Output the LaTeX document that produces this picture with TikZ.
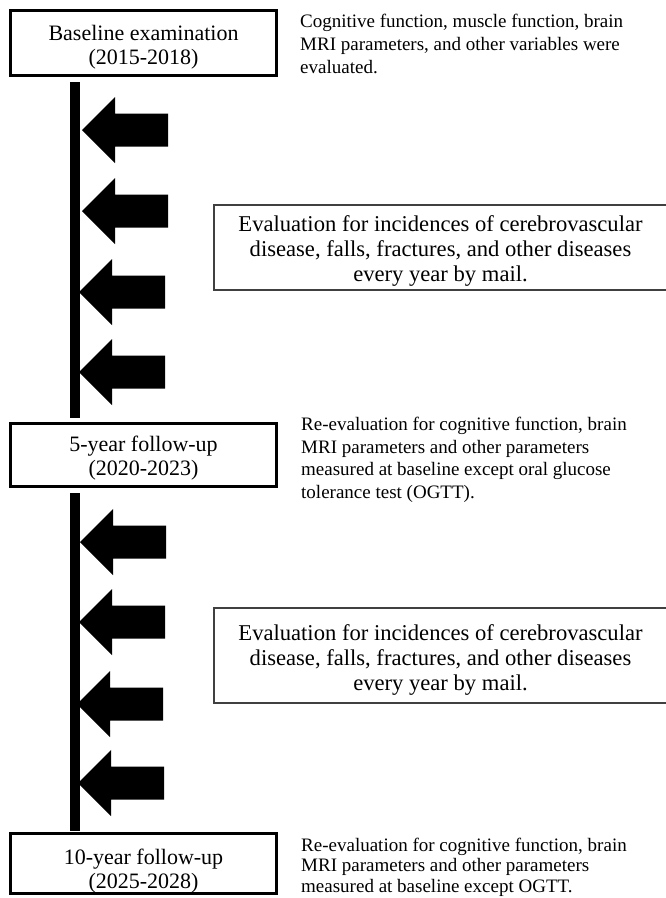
\documentclass[tikz,border=0pt]{standalone}
\usepackage{fontspec}
\setmainfont{Liberation Serif}
\begin{document}
\begin{tikzpicture}[x=1pt,y=-1pt,
  mainbox/.style={draw, line width=3pt, inner sep=0pt, minimum width=266pt},
  maintext/.style={inner sep=0pt, align=center, font=\fontsize{22}{24.5}\selectfont},
  evalbox/.style={draw=black!75, line width=1.2pt, inner sep=0pt, minimum width=453pt},
  evaltext/.style={inner sep=0pt, align=center, font=\fontsize{22.6}{25}\selectfont},
  note/.style={inner sep=0pt, align=left, anchor=north west, font=\fontsize{19}{23}\selectfont},
  bar/.style={line width=10pt},
  bigarrow/.pic={\fill (0,0) -- (33,-33) -- (33,-16.5) -- (86,-16.5) -- (86,16.5) -- (33,16.5) -- (33,33) -- cycle;}]
\useasboundingbox (0,0) rectangle (665,898);

% main boxes
\node[mainbox, minimum height=65pt] (b1) at (143.5,43) {};
\node[maintext] (b1t) at ([yshift=-4pt]b1.center) {Baseline examination\\(2015-2018)};
\node[mainbox, minimum height=63pt] (b2) at (143.5,455) {};
\node[maintext] (b2t) at ([yshift=-3pt]b2.center) {5-year follow-up\\(2020-2023)};
\node[mainbox, minimum height=60pt] (b3) at (143.5,863.5) {};
\node[maintext] (b3t) at ([yshift=-7.5pt]b3.center) {10-year follow-up\\(2025-2028)};

% notes
\node[note] (n1) at (300,14) {Cognitive function, muscle function, brain\\MRI parameters, and other variables were\\evaluated.};
\node[note, font=\fontsize{19}{22.5}\selectfont] (n2) at (301,417) {Re-evaluation for cognitive function, brain\\MRI parameters and other parameters\\measured at baseline except oral glucose\\tolerance test (OGTT).};
\node[note, font=\fontsize{19}{20.5}\selectfont] (n3) at (301,837.5) {Re-evaluation for cognitive function, brain\\MRI parameters and other parameters\\measured at baseline except OGTT.};

% evaluation boxes
\node[evalbox, minimum height=85pt] (e1) at (440.5,247.5) {};
\node[evaltext] (e1t) at ([yshift=-3.5pt]e1.center) {Evaluation for incidences of cerebrovascular\\disease, falls, fractures, and other diseases\\every year by mail.};
\node[evalbox, minimum height=95pt] (e2) at (440.5,655.5) {};
\node[evaltext] (e2t) at ([yshift=-4pt]e2.center) {Evaluation for incidences of cerebrovascular\\disease, falls, fractures, and other diseases\\every year by mail.};

% timeline bars
\coordinate (s1) at (75,82);
\coordinate (s2) at (75,418);
\coordinate (s3) at (75,493);
\coordinate (s4) at (75,831);
\draw[bar] (s1) -- (s2);
\draw[bar] (s3) -- (s4);

% arrows
\pic at (82,130) {bigarrow};
\pic at (82,211) {bigarrow};
\pic at (79,292) {bigarrow};
\pic at (79,372) {bigarrow};
\pic at (80,542) {bigarrow};
\pic at (79,622) {bigarrow};
\pic at (77,704) {bigarrow};
\pic at (78,783) {bigarrow};
\end{tikzpicture}
\end{document}
